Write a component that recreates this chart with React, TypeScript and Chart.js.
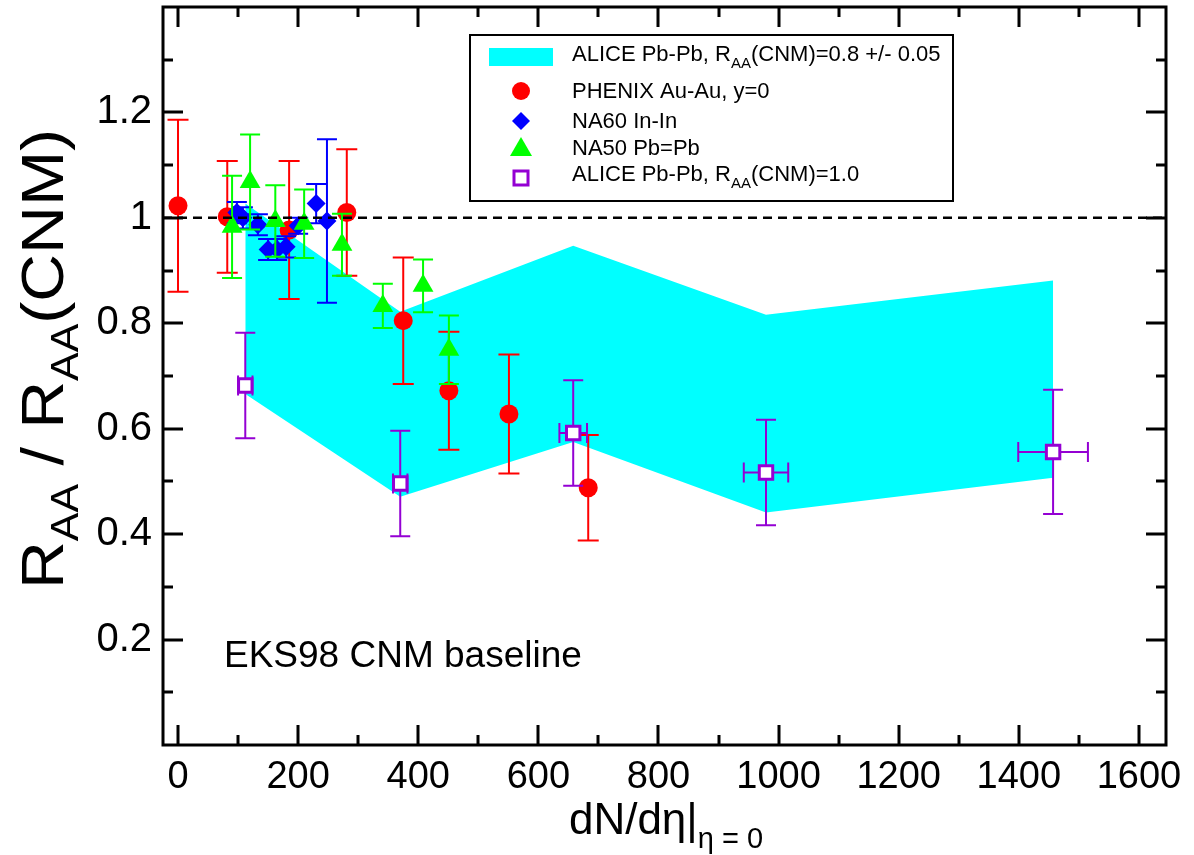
import React, { useEffect, useRef } from 'react';
import { Chart, registerables } from 'chart.js';

Chart.register(...registerables);

const FONT = '"Liberation Sans", Arial, Helvetica, sans-serif';

// ---- axes ----
const xMin = -25;
const xMax = 1645;
const yMin = 0;
const yMax = 1.4;
const xTickValues = [0, 200, 400, 600, 800, 1000, 1200, 1400, 1600];
const xMinorTickValues = [100, 300, 500, 700, 900, 1100, 1300, 1500];
const yTickValues = [0.2, 0.4, 0.6, 0.8, 1, 1.2];
const yMinorTickValues = [0.1, 0.3, 0.5, 0.7, 0.9, 1.1, 1.3];

// ---- ALICE band, R_AA(CNM)=0.8 +/- 0.05 ----
const bandX = [112, 370, 658, 979, 1457];
const bandUpper = [1.027, 0.822, 0.947, 0.816, 0.881];
const bandLower = [0.666, 0.471, 0.575, 0.441, 0.507];

// ---- PHENIX Au-Au, y=0 ----
const phenixX = [0, 82, 185, 281, 375, 451, 551, 683];
const phenixY = [1.023, 1.002, 0.977, 1.01, 0.805, 0.672, 0.628, 0.488];
const phenixErr = [0.163, 0.106, 0.131, 0.12, 0.12, 0.112, 0.113, 0.1];

// ---- NA60 In-In ----
const na60X = [98, 108, 133, 150, 165, 180, 200, 230, 248];
const na60Y = [1.01, 1.0, 0.987, 0.94, 0.94, 0.945, 0.985, 1.027, 0.994];
const na60Err = [0.02, 0.02, 0.02, 0.02, 0.02, 0.02, 0.015, 0.037, 0.155];

// ---- NA50 Pb-Pb ----
const na50X = [90, 120, 162, 210, 273, 341, 408, 451];
const na50Y = [0.983, 1.068, 0.994, 0.989, 0.949, 0.833, 0.871, 0.75];
const na50Err = [0.097, 0.09, 0.068, 0.065, 0.059, 0.042, 0.05, 0.065];

// ---- ALICE Pb-Pb, R_AA(CNM)=1.0 ----
const aliceX = [112, 370, 658, 979, 1457];
const aliceY = [0.682, 0.496, 0.592, 0.517, 0.556];
const aliceYErr = [0.1, 0.1, 0.1, 0.1, 0.118];
const aliceXErr = [12, 12, 23, 37, 58];

const refLineY = 1;

const COLORS = {
  band: '#00FFFF',
  phenix: '#FF0000',
  na60: '#0000FF',
  na50: '#00FF00',
  alice: '#9400D3',
};

type Part = { t: string; sub?: boolean };

const legendRows: { label: Part[]; kind: string }[] = [
  { label: [{ t: 'ALICE Pb-Pb, R' }, { t: 'AA', sub: true }, { t: '(CNM)=0.8 +/- 0.05' }], kind: 'band' },
  { label: [{ t: 'PHENIX Au-Au, y=0' }], kind: 'phenix' },
  { label: [{ t: 'NA60 In-In' }], kind: 'na60' },
  { label: [{ t: 'NA50 Pb=Pb' }], kind: 'na50' },
  { label: [{ t: 'ALICE Pb-Pb, R' }, { t: 'AA', sub: true }, { t: '(CNM)=1.0' }], kind: 'alice' },
];

const yTitle: Part[] = [
  { t: 'R' }, { t: 'AA', sub: true }, { t: ' / R' }, { t: 'AA', sub: true }, { t: '(CNM)' },
];
const xTitle: Part[] = [{ t: 'dN/dη|' }, { t: 'η = 0', sub: true }];
const annotation = 'EKS98 CNM baseline';

function richWidth(ctx: CanvasRenderingContext2D, parts: Part[], main: number, sub: number) {
  let w = 0;
  for (const p of parts) {
    ctx.font = `${p.sub ? sub : main}px ${FONT}`;
    w += ctx.measureText(p.t).width;
  }
  return w;
}

function drawRich(
  ctx: CanvasRenderingContext2D,
  parts: Part[],
  x: number,
  y: number,
  main: number,
  sub: number,
  subDrop: number
) {
  let cx = x;
  ctx.textBaseline = 'alphabetic';
  ctx.textAlign = 'left';
  for (const p of parts) {
    ctx.font = `${p.sub ? sub : main}px ${FONT}`;
    ctx.fillText(p.t, cx, p.sub ? y + subDrop : y);
    cx += ctx.measureText(p.t).width;
  }
}

function drawMarker(ctx: CanvasRenderingContext2D, kind: string, x: number, y: number) {
  ctx.save();
  if (kind === 'band') {
    ctx.fillStyle = COLORS.band;
    ctx.fillRect(x - 32, y - 9, 64, 18);
  } else if (kind === 'phenix') {
    ctx.fillStyle = COLORS.phenix;
    ctx.beginPath();
    ctx.arc(x, y, 9, 0, Math.PI * 2);
    ctx.fill();
  } else if (kind === 'na60') {
    ctx.fillStyle = COLORS.na60;
    ctx.beginPath();
    ctx.moveTo(x, y - 9);
    ctx.lineTo(x + 9, y);
    ctx.lineTo(x, y + 9);
    ctx.lineTo(x - 9, y);
    ctx.closePath();
    ctx.fill();
  } else if (kind === 'na50') {
    ctx.fillStyle = COLORS.na50;
    ctx.beginPath();
    ctx.moveTo(x, y - 11);
    ctx.lineTo(x + 11, y + 8);
    ctx.lineTo(x - 11, y + 8);
    ctx.closePath();
    ctx.fill();
  } else if (kind === 'alice') {
    ctx.fillStyle = '#fff';
    ctx.strokeStyle = COLORS.alice;
    ctx.lineWidth = 3;
    ctx.fillRect(x - 7, y - 7, 14, 14);
    ctx.strokeRect(x - 7, y - 7, 14, 14);
  }
  ctx.restore();
}

const errorBarPlugin = {
  id: 'errorBars',
  beforeDatasetDraw(chart: any, args: any) {
    const ds = chart.data.datasets[args.index];
    if (!ds.errY) return;
    const { ctx } = chart;
    const xs = chart.scales.x;
    const ys = chart.scales.y;
    const cap = ds.capHalf || 10;
    ctx.save();
    ctx.strokeStyle = ds.errColor;
    ctx.lineWidth = 2;
    ds.data.forEach((p: any, i: number) => {
      const px = xs.getPixelForValue(p.x);
      const py = ys.getPixelForValue(p.y);
      const e = ds.errY[i];
      const top = ys.getPixelForValue(p.y + e);
      const bot = ys.getPixelForValue(p.y - e);
      ctx.beginPath();
      ctx.moveTo(px, top);
      ctx.lineTo(px, bot);
      ctx.moveTo(px - cap, top);
      ctx.lineTo(px + cap, top);
      ctx.moveTo(px - cap, bot);
      ctx.lineTo(px + cap, bot);
      ctx.stroke();
      if (ds.errX) {
        const ex = ds.errX[i];
        const l = xs.getPixelForValue(p.x - ex);
        const r = xs.getPixelForValue(p.x + ex);
        ctx.beginPath();
        ctx.moveTo(l, py);
        ctx.lineTo(r, py);
        ctx.moveTo(l, py - cap);
        ctx.lineTo(l, py + cap);
        ctx.moveTo(r, py - cap);
        ctx.lineTo(r, py + cap);
        ctx.stroke();
      }
    });
    ctx.restore();
  },
};

const decorPlugin = {
  id: 'decor',
  afterDatasetsDraw(chart: any) {
    const { ctx, chartArea: a } = chart;
    const ys = chart.scales.y;
    const py = ys.getPixelForValue(refLineY);
    ctx.save();
    ctx.strokeStyle = '#000';
    ctx.lineWidth = 2.5;
    ctx.setLineDash([9, 6]);
    ctx.beginPath();
    ctx.moveTo(a.left, py);
    ctx.lineTo(a.right, py);
    ctx.stroke();
    ctx.restore();
  },
  afterDraw(chart: any) {
    const { ctx, chartArea: a } = chart;
    const xs = chart.scales.x;
    const ys = chart.scales.y;
    ctx.save();
    ctx.strokeStyle = '#000';
    ctx.lineWidth = 3;
    ctx.strokeRect(a.left, a.top, a.right - a.left, a.bottom - a.top);
    ctx.beginPath();
    const xt = (v: number, len: number) => {
      const px = Math.round(xs.getPixelForValue(v));
      ctx.moveTo(px, a.bottom);
      ctx.lineTo(px, a.bottom - len);
      ctx.moveTo(px, a.top);
      ctx.lineTo(px, a.top + len);
    };
    const yt = (v: number, len: number) => {
      const py = Math.round(ys.getPixelForValue(v));
      ctx.moveTo(a.left, py);
      ctx.lineTo(a.left + len, py);
      ctx.moveTo(a.right, py);
      ctx.lineTo(a.right - len, py);
    };
    xTickValues.forEach((v) => xt(v, 20));
    xMinorTickValues.forEach((v) => xt(v, 10));
    yTickValues.forEach((v) => yt(v, 20));
    yMinorTickValues.forEach((v) => yt(v, 10));
    ctx.stroke();

    ctx.fillStyle = '#000';
    // y title (rotated, stretched along its direction to match the reference)
    ctx.save();
    const yMain = 60;
    const ySub = 39;
    const yw = richWidth(ctx, yTitle, yMain, ySub);
    const stretch = 460 / yw;
    ctx.translate(63, 359);
    ctx.rotate(-Math.PI / 2);
    ctx.scale(stretch, 1);
    drawRich(ctx, yTitle, -yw / 2, 0, yMain, ySub, 15);
    ctx.restore();

    // x title
    const xw = richWidth(ctx, xTitle, 44, 29);
    drawRich(ctx, xTitle, 666 - xw / 2, 834, 44, 29, 14);

    // annotation
    ctx.font = `37px ${FONT}`;
    ctx.textAlign = 'left';
    ctx.textBaseline = 'alphabetic';
    ctx.fillText(annotation, 224, 667);

    // legend
    ctx.fillStyle = '#fff';
    ctx.fillRect(470, 35, 483, 166);
    ctx.lineWidth = 2;
    ctx.strokeStyle = '#000';
    ctx.strokeRect(470, 35, 483, 166);
    const baselines = [61, 98, 128, 155, 181];
    const markerY = [57, 91, 121, 148, 178];
    legendRows.forEach((row, i) => {
      drawMarker(ctx, row.kind, 521, markerY[i]);
      ctx.fillStyle = '#000';
      drawRich(ctx, row.label, 572, baselines[i], 22, 15, 7);
    });
    ctx.restore();
  },
};

export default function App() {
  const ref = useRef<HTMLCanvasElement | null>(null);
  useEffect(() => {
    if (!ref.current) return;
    const toPts = (xs: number[], ys: number[]) => xs.map((x, i) => ({ x, y: ys[i] }));
    const chart = new Chart(ref.current, {
      type: 'scatter',
      data: {
        datasets: [
          {
            type: 'line',
            label: 'band upper',
            data: toPts(bandX, bandUpper),
            fill: '+1',
            backgroundColor: COLORS.band,
            borderColor: 'rgba(0,0,0,0)',
            borderWidth: 0,
            pointRadius: 0,
            tension: 0,
            order: 10,
          },
          {
            type: 'line',
            label: 'band lower',
            data: toPts(bandX, bandLower),
            fill: false,
            borderColor: 'rgba(0,0,0,0)',
            borderWidth: 0,
            pointRadius: 0,
            tension: 0,
            order: 9,
          },
          {
            label: 'PHENIX Au-Au, y=0',
            data: toPts(phenixX, phenixY),
            pointStyle: 'circle',
            pointRadius: 9.5,
            backgroundColor: COLORS.phenix,
            borderColor: COLORS.phenix,
            borderWidth: 0,
            order: 4,
            errY: phenixErr,
            errColor: COLORS.phenix,
            capHalf: 10.5,
          } as any,
          {
            label: 'NA60 In-In',
            data: toPts(na60X, na60Y),
            pointStyle: 'rectRot',
            pointRadius: 9.5,
            backgroundColor: COLORS.na60,
            borderColor: COLORS.na60,
            borderWidth: 0,
            order: 3,
            errY: na60Err,
            errColor: COLORS.na60,
            capHalf: 10,
          } as any,
          {
            label: 'NA50 Pb-Pb',
            data: toPts(na50X, na50Y),
            pointStyle: 'triangle',
            pointRadius: 12,
            backgroundColor: COLORS.na50,
            borderColor: COLORS.na50,
            borderWidth: 0,
            order: 2,
            errY: na50Err,
            errColor: COLORS.na50,
            capHalf: 10,
          } as any,
          {
            label: 'ALICE Pb-Pb, RAA(CNM)=1.0',
            data: toPts(aliceX, aliceY),
            pointStyle: 'rect',
            pointRadius: 9.5,
            backgroundColor: '#FFFFFF',
            borderColor: COLORS.alice,
            borderWidth: 3,
            order: 1,
            errY: aliceYErr,
            errX: aliceXErr,
            errColor: COLORS.alice,
            capHalf: 10,
          } as any,
        ],
      },
      options: {
        animation: false,
        responsive: true,
        maintainAspectRatio: false,
        devicePixelRatio: 1,
        layout: { autoPadding: false, padding: { top: 7, right: 28, left: 0, bottom: 0 } },
        plugins: {
          legend: { display: false },
          tooltip: { enabled: false },
        },
        events: [],
        scales: {
          x: {
            type: 'linear',
            min: xMin,
            max: xMax,
            grid: { display: false },
            border: { display: false },
            afterBuildTicks: (s: any) => {
              s.ticks = xTickValues.map((value) => ({ value }));
            },
            afterFit: (s: any) => {
              s.height = 110;
              s.paddingLeft = 0;
              s.paddingRight = 0;
            },
            ticks: {
              autoSkip: false,
              maxRotation: 0,
              padding: 2,
              color: '#000',
              font: { family: FONT, size: 38 },
              callback: (v: any) => String(v),
            },
          },
          y: {
            type: 'linear',
            min: yMin,
            max: yMax,
            grid: { display: false },
            border: { display: false },
            afterBuildTicks: (s: any) => {
              s.ticks = yTickValues.map((value) => ({ value }));
            },
            afterFit: (s: any) => {
              s.width = 163;
              s.paddingTop = 0;
              s.paddingBottom = 0;
            },
            ticks: {
              autoSkip: false,
              padding: 3,
              color: '#000',
              font: { family: FONT, size: 40 },
              callback: (v: any) => String(v),
            },
          },
        },
      } as any,
      plugins: [errorBarPlugin, decorPlugin],
    });
    return () => chart.destroy();
  }, []);

  return (
    <div
      style={{
        position: 'fixed',
        left: 0,
        top: 0,
        width: 1194,
        height: 855,
        background: '#fff',
      }}
    >
      <canvas ref={ref} />
    </div>
  );
}
